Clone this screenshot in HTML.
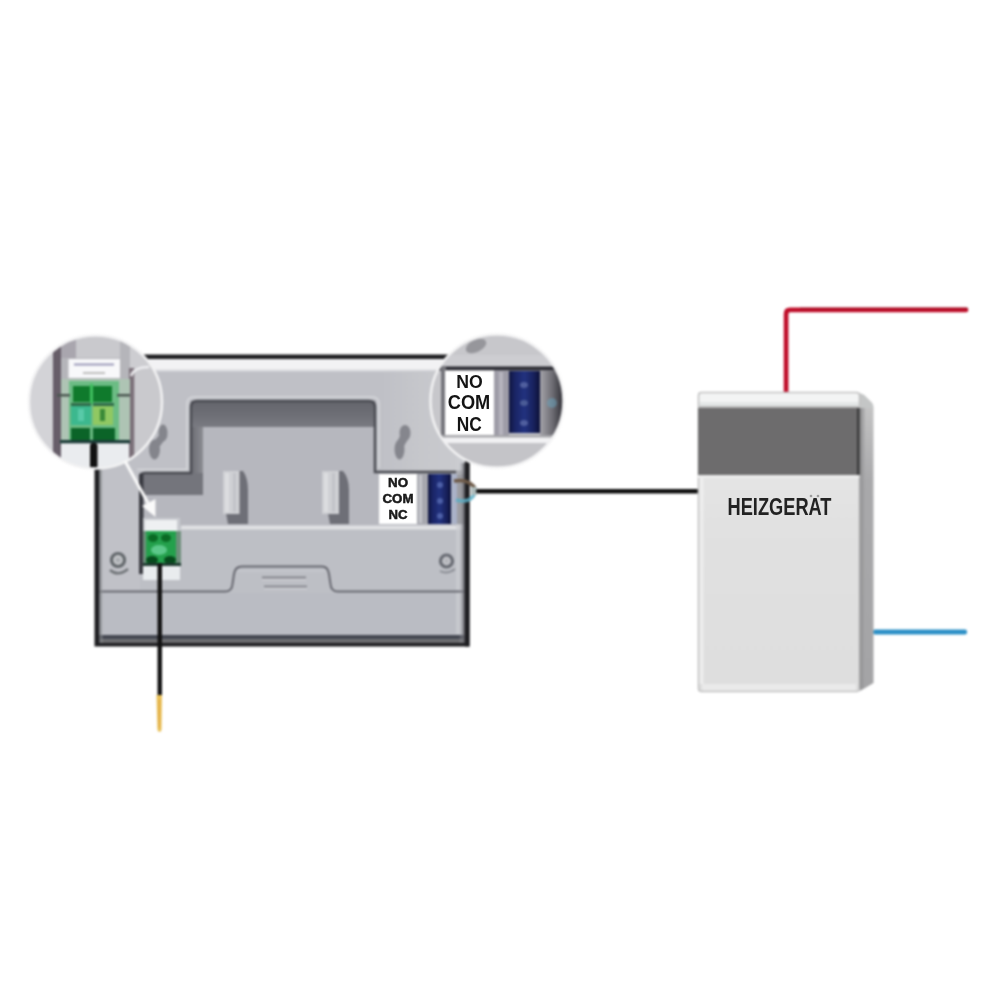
<!DOCTYPE html>
<html><head><meta charset="utf-8">
<style>
html,body{margin:0;padding:0;background:#fff;width:1000px;height:1000px;overflow:hidden;}
svg{display:block;}
#wrap{width:1000px;height:1000px;}
text{font-family:"Liberation Sans",sans-serif;font-weight:bold;}
</style></head>
<body><div id="wrap">
<svg width="1000" height="1000" viewBox="0 0 1000 1000">
<defs>
  <linearGradient id="rlight" x1="0" y1="0" x2="1" y2="0"><stop offset="0" stop-color="#c8c9cd" stop-opacity="0"/><stop offset="0.5" stop-color="#c8c9cd" stop-opacity="0.8"/><stop offset="1" stop-color="#cacbcf"/></linearGradient>
  <filter id="soft" color-interpolation-filters="sRGB" x="-2%" y="-2%" width="104%" height="104%"><feGaussianBlur stdDeviation="1"/></filter>
  <clipPath id="cl"><circle cx="95.5" cy="402" r="66.5"/></clipPath>
  <clipPath id="cr"><circle cx="497" cy="401" r="66.5"/></clipPath>
  <linearGradient id="boxg" x1="0" y1="0" x2="0" y2="1">
    <stop offset="0" stop-color="#ebebeb"/>
    <stop offset="0.45" stop-color="#e1e1e1"/>
    <stop offset="1" stop-color="#dedede"/>
  </linearGradient>
  <linearGradient id="sideg" x1="0" y1="0" x2="0" y2="1">
    <stop offset="0" stop-color="#c8c8c8"/>
    <stop offset="0.3" stop-color="#a9a9ab"/>
    <stop offset="1" stop-color="#a4a4a6"/>
  </linearGradient>
  <linearGradient id="topband" x1="0" y1="0" x2="0" y2="1">
    <stop offset="0" stop-color="#64656c"/>
    <stop offset="0.6" stop-color="#6f7077"/>
    <stop offset="1" stop-color="#7a7b82"/>
  </linearGradient>
  <linearGradient id="leftband" x1="0" y1="0" x2="1" y2="0">
    <stop offset="0" stop-color="#6a6b72"/>
    <stop offset="1" stop-color="#8c8d93"/>
  </linearGradient>
  <linearGradient id="bluet" x1="0" y1="0" x2="1" y2="0">
    <stop offset="0" stop-color="#10163f"/>
    <stop offset="0.2" stop-color="#1a2566"/>
    <stop offset="0.5" stop-color="#22327f"/>
    <stop offset="0.8" stop-color="#18215c"/>
    <stop offset="1" stop-color="#0c1036"/>
  </linearGradient>
  <linearGradient id="rdark" x1="0" y1="0" x2="1" y2="0">
    <stop offset="0" stop-color="#a5a4aa"/>
    <stop offset="0.5" stop-color="#6a6970"/>
    <stop offset="1" stop-color="#1e1e24"/>
  </linearGradient>
</defs>
<rect width="1000" height="1000" fill="#fff"/>
<g filter="url(#soft)">

<!-- ===== Thermostat back plate ===== -->
<g id="plate">
  <rect x="94.5" y="354.5" width="375" height="292" fill="#1e1e21"/>
  <rect x="99.5" y="359" width="365.5" height="284" fill="#bfc0c6"/>
  <rect x="99.5" y="359" width="365.5" height="12" fill="#f2f2f4"/>
  <rect x="99.5" y="369.5" width="365.5" height="2" fill="#d9dade"/>
  <rect x="380" y="371" width="85" height="100" fill="url(#rlight)"/>
  <!-- recess highlight -->
  <path d="M137 469.5 L187 469.5 L187 404 Q187 397 194 397 L372 397 Q379 397 379 404 L379 468" fill="none" stroke="#d6d7db" stroke-width="1.5"/>
  <!-- recess -->
  <path d="M140 590 L140 478 Q140 473 145 473 L191 473 L191 407 Q191 401 197 401 L369 401 Q375 401 375 407 L375 472 L465 472 L465 590 Z" fill="#b6b7be"/>
  <rect x="191" y="401" width="12" height="94" fill="url(#leftband)"/>
  <rect x="191" y="401" width="184" height="26" fill="url(#topband)"/>
  <rect x="140" y="473" width="63" height="22" fill="#74757c"/>
  <path d="M140 590 L140 478 Q140 473 145 473 L191 473 L191 407 Q191 401 197 401 L369 401 Q375 401 375 407 L375 472 L462 472" fill="none" stroke="#4a4b52" stroke-width="2.5"/>
  <!-- clips -->
  <path d="M239 471 L243 471 Q248 478 248 490 L248 524 L228 524 L226 513 L239 513 Z" fill="#6e6f77"/>
  <rect x="223" y="471" width="16.5" height="43" fill="#cfd0d4"/>
  <rect x="225" y="473" width="4" height="39" fill="#dcdde0"/>
  <rect x="233" y="473" width="3" height="39" fill="#c2c3c8"/>
  <path d="M339 471 L343 471 Q349 478 349 490 L349 524 L330 524 L328 513 L339 513 Z" fill="#6e6f77"/>
  <rect x="322" y="471" width="17" height="43" fill="#cfd0d4"/>
  <rect x="324" y="473" width="4" height="39" fill="#dcdde0"/>
  <rect x="332" y="473" width="3" height="39" fill="#c2c3c8"/>
  <!-- keyhole -->
  <ellipse cx="405" cy="433" rx="5.5" ry="8" fill="#85868d"/>
  <ellipse cx="399.5" cy="449.5" rx="5" ry="10" fill="#85868d"/>
  <path d="M400 436 L410 436 L404 446 L395 446 Z" fill="#85868d"/>
  <!-- lower panel -->
  <rect x="99.5" y="527" width="365.5" height="108" fill="#bdbfc5"/>
  <rect x="99.5" y="470" width="40.5" height="122" fill="#c0c1c7"/>
  <rect x="181" y="525.5" width="282.5" height="4" fill="#e0e1e4"/>
  <rect x="99.5" y="593" width="365.5" height="42" fill="#babcc3"/>
  <rect x="456" y="372" width="7" height="262" fill="#cccdd1" opacity="0.7"/>
  <path d="M99.5 591.5 L225 591.5 Q232 591.5 232.5 584 L234 574 Q235 566.5 242 566.5 L322 566.5 Q328 566.5 329 574 L330.5 584 Q331 591.5 338 591.5 L465 591.5" fill="none" stroke="#676870" stroke-width="2"/>
  <path d="M238 571 L325 571" stroke="#d0d1d6" stroke-width="1.2" opacity="0.8"/>
  <rect x="262" y="576.5" width="44" height="2" fill="#85868d"/>
  <rect x="262" y="579" width="44" height="1.2" fill="#d2d3d8"/>
  <rect x="264" y="585.5" width="43" height="2" fill="#8a8b92"/>
  <rect x="264" y="588" width="43" height="1.2" fill="#d2d3d8"/>
  <rect x="99.5" y="635" width="365.5" height="4.5" fill="#444751"/>
  <rect x="99.5" y="639.5" width="365.5" height="3.5" fill="#6b6b6d"/>
  <!-- screws -->
  <circle cx="118" cy="560" r="6.5" fill="#c5c7ca" stroke="#62676b" stroke-width="3.2"/>
  <circle cx="118" cy="560" r="2.5" fill="#a9acb0"/>
  <path d="M110 570 Q118 577 128 569" fill="none" stroke="#6f7377" stroke-width="2.5"/>
  <circle cx="446.5" cy="561" r="6" fill="#c3c4c9" stroke="#676a72" stroke-width="3.2"/>
  <circle cx="446.5" cy="561" r="2.2" fill="#b3b5ba"/>
  <path d="M440 571 Q447 575 455 569" fill="none" stroke="#8a8d94" stroke-width="2"/>
  <!-- green terminal on plate -->
  <rect x="139" y="474" width="4.5" height="100" fill="#3a3b42"/>
  <rect x="143" y="518" width="37" height="14" fill="#c9cbd0"/>
  <rect x="145" y="520" width="32" height="11" fill="#eef0f2"/>
  <rect x="143" y="531" width="38" height="35" fill="#6f8f7c"/>
  <rect x="146" y="531" width="30" height="34" fill="#24a04c"/>
  <ellipse cx="153" cy="538" rx="5" ry="4" fill="#0a6a24"/>
  <ellipse cx="166" cy="538" rx="5" ry="4" fill="#0a6a24"/>
  <ellipse cx="159" cy="550" rx="8" ry="5" fill="#5cc88a"/>
  <ellipse cx="152" cy="560" rx="6" ry="4" fill="#064a1c"/>
  <ellipse cx="170" cy="560" rx="6" ry="4" fill="#064a1c"/>
  <rect x="143" y="563" width="38" height="3" fill="#1f3a30"/>
  <rect x="143" y="566" width="37" height="14" fill="#e9ecee"/>
  <!-- NO/COM/NC small -->
  <rect x="379" y="474" width="38" height="50" fill="#ffffff"/>
  <rect x="417" y="474" width="11" height="50" fill="#a6a7ae"/>
  <rect x="419" y="475" width="3" height="48" fill="#c4c5cb"/>
  <rect x="428" y="474" width="23" height="50" fill="url(#bluet)"/>
  <circle cx="440" cy="485" r="3" fill="#4d60a8"/>
  <circle cx="440" cy="501" r="3" fill="#4d60a8"/>
  <circle cx="440" cy="516" r="3" fill="#4d60a8"/>
  <rect x="451" y="474" width="14" height="50" fill="#9c9da2"/>
  <rect x="451" y="474" width="6" height="50" fill="#aab2c8"/>
  <defs><linearGradient id="redge" x1="0" y1="0" x2="1" y2="0"><stop offset="0" stop-color="#b9bac0" stop-opacity="0"/><stop offset="1" stop-color="#4a4a50"/></linearGradient>
  <linearGradient id="ledge" x1="0" y1="0" x2="1" y2="0"><stop offset="0" stop-color="#5a5c60"/><stop offset="1" stop-color="#bcc0c2" stop-opacity="0"/></linearGradient></defs>
  <rect x="459" y="463" width="6" height="180" fill="url(#redge)"/>
  <rect x="465" y="463" width="4.5" height="183.5" fill="#1e1e21"/>
  <rect x="99.5" y="468" width="4" height="175" fill="url(#ledge)"/>
  <path d="M454 481 Q470 478 476 490" fill="none" stroke="#6e5a48" stroke-width="3.5"/>
  <path d="M456 500 Q470 504 475 493" fill="none" stroke="#5aaec6" stroke-width="3.5" opacity="0.85"/>
  <rect x="471" y="487" width="6" height="8" fill="#aebcbc"/>
</g>

<!-- wires -->
<rect x="157.5" y="563" width="4.5" height="132" fill="#121212"/>
<path d="M156.5 695 L162 695 L161.5 730 Q159.5 734 157.5 730 Z" fill="#e8bf55"/>
<rect x="158.5" y="700" width="1.5" height="28" fill="#e0a040" opacity="0.6"/>
<rect x="476" y="489" width="223" height="4.5" fill="#0e0e0e" rx="2"/>
<path d="M786.1 393 L786.1 314 Q786.1 309.9 790 309.9 L966 309.9" fill="none" stroke="#bf0d29" stroke-width="4.7" stroke-linecap="round"/>
<rect x="800" y="307.6" width="168" height="1.6" fill="#8a0a1c" opacity="0.5"/>
<rect x="873" y="629.5" width="94" height="5" fill="#2b8fc6" rx="2"/>

<!-- ===== Heater box ===== -->
<g id="box">
  <path d="M857 392 L864 395 L872 403 Q873.5 405 873.5 408 L873.5 683 L860 691 Z" fill="url(#sideg)"/>
  <path d="M857 392 L864 395 L872 403 Q873.5 405 873.5 408 L860 408 Z" fill="#c4c6c6"/>
  <rect x="861" y="408" width="4" height="280" fill="#a2a2a4" opacity="0.6"/>
  <rect x="698" y="392" width="162" height="299" rx="4" fill="url(#boxg)"/>
  <rect x="698" y="392" width="162" height="15" fill="#f3f4f4"/>
  <rect x="698" y="402" width="162" height="4" fill="#e4e7e7"/>
  <rect x="698" y="406" width="162" height="2" fill="#b8b8b8"/>
  <rect x="698.5" y="392.5" width="161" height="299" rx="3" fill="none" stroke="#c2c2c2" stroke-width="1.6"/>
  <rect x="698" y="408" width="162" height="67" fill="#6d6c6d"/>
  <rect x="857" y="408" width="3.5" height="67" fill="#3a3a3b"/>
  <rect x="698" y="475" width="162" height="3" fill="#ececec"/>
  <rect x="699.5" y="478" width="4" height="206" fill="#f0f0f0" opacity="0.8"/>
  <path d="M702 684 L856 684 L856 690.5 L704 690.5 Q702 690.5 702 688 Z" fill="#ececec" opacity="0.8"/>
  <rect x="859" y="408" width="4" height="281" fill="#8c8c8e" opacity="0.5"/>
</g>

<ellipse cx="163" cy="433" rx="4.5" ry="8.5" fill="#84858c"/>
<ellipse cx="154.5" cy="449.5" rx="5.5" ry="10" fill="#84858c"/>
<path d="M158.5 436 L167.5 436 L160 446 L149.5 446 Z" fill="#84858c"/>
<!-- ===== Left zoom circle ===== -->
<g clip-path="url(#cl)">
  <rect x="28" y="334" width="136" height="136" fill="#cdcdd1"/>
  <rect x="28" y="334" width="24" height="136" fill="#d3d3d7"/>
  <rect x="53" y="340" width="8" height="118" fill="#675e69"/>
  <rect x="61" y="334" width="69" height="136" fill="#b5b5ba"/>
  <rect x="61" y="336" width="15" height="22" fill="#a9a6ae"/>
  <rect x="76" y="336" width="44" height="22" fill="#c9c9cd"/>
  <rect x="129" y="368" width="5.5" height="95" fill="#7b7079"/>
  <rect x="134.5" y="368" width="30" height="100" fill="#c9c9cd"/>
  <path d="M131 376 q3 -9 18 -9" fill="none" stroke="#ececef" stroke-width="2.5"/>
  <rect x="68.5" y="359" width="51.5" height="19" fill="#f8f8fa"/>
  <rect x="74" y="363.5" width="40" height="2" fill="#9a98b8"/>
  <rect x="83" y="372" width="22" height="2" fill="#bdbdbd"/>
  <rect x="61" y="379" width="69" height="64" fill="#aec4b4"/>
  <rect x="69" y="381" width="50" height="62" fill="#6cbc84"/>
  <rect x="57" y="394" width="13" height="2.5" fill="#4a5650"/>
  <rect x="117" y="394" width="13" height="2.5" fill="#4a5650"/>
  <rect x="73" y="386" width="17" height="16" fill="#0f7a2c"/>
  <rect x="93" y="386" width="19" height="16" fill="#0f7a2c"/>
  <rect x="90" y="384" width="3" height="20" fill="#40c060"/>
  <rect x="71" y="403" width="20" height="3" fill="#2e6a48"/>
  <rect x="93" y="403" width="21" height="3" fill="#2e6a48"/>
  <rect x="71" y="406" width="20" height="19" fill="#3cb88e"/>
  <rect x="93" y="406" width="20" height="19" fill="#90c862"/>
  <rect x="78" y="409" width="6" height="12" fill="#58caa8"/>
  <rect x="100" y="409" width="5" height="12" fill="#3a8a38"/>
  <rect x="71" y="428" width="19" height="14" fill="#0b6428"/>
  <rect x="93" y="428" width="22" height="14" fill="#0b6428"/>
  <rect x="60" y="440" width="70" height="3.5" fill="#1c3c38"/>
  <rect x="61" y="443.5" width="68" height="26" fill="#eaecef"/>
  <rect x="90" y="443" width="7.5" height="26" fill="#111" rx="3"/>
</g>
<circle cx="95.5" cy="402" r="66.5" fill="none" stroke="#f2f2f3" stroke-width="2.5"/>
<path d="M125 461 L148 503" stroke="#fafafa" stroke-width="3"/>
<path d="M142 506 L155.5 499 L155.5 517 Z" fill="#fafafa"/>

<!-- ===== Right zoom circle ===== -->
<g clip-path="url(#cr)">
  <rect x="430" y="333" width="136" height="134" fill="#c7c7cb"/>
  <ellipse cx="476" cy="346" rx="11" ry="6" fill="#96969b" transform="rotate(-25 476 346)"/>
  <rect x="430" y="355" width="136" height="11" fill="#cdcdd1"/>
  <rect x="430" y="366.5" width="136" height="4" fill="#2c2c33"/>
  <rect x="441" y="366.5" width="5" height="71" fill="#75757b"/>
  <rect x="445" y="370.5" width="49" height="64.5" fill="#ffffff"/>
  <rect x="494" y="370.5" width="15" height="67" fill="#9e9ca7"/>
  <rect x="499" y="372" width="4" height="64" fill="#b6b4be"/>
  <rect x="509" y="371" width="31" height="62" fill="url(#bluet)"/>
  <ellipse cx="524" cy="385" rx="4" ry="3" fill="#5c6ca8" opacity="0.8"/>
  <ellipse cx="524" cy="403" rx="4" ry="3" fill="#56689e" opacity="0.8"/>
  <ellipse cx="524" cy="423" rx="4" ry="3" fill="#5c6ca8" opacity="0.8"/>
  <rect x="540" y="370.5" width="26" height="67" fill="url(#rdark)"/>
  <ellipse cx="552" cy="403" rx="5" ry="5" fill="#6aa6c0" opacity="0.5"/>
  <rect x="430" y="435" width="136" height="2.5" fill="#a4a4a8"/>
  <rect x="430" y="437.5" width="136" height="5.5" fill="#f1f1f3"/>
  <rect x="430" y="443" width="136" height="26" fill="#c4c4c8"/>
</g>
<circle cx="497" cy="401" r="66.5" fill="none" stroke="#f2f2f3" stroke-width="2.5"/>
</g>
<g id="labels">
  <text x="398" y="487.2" font-size="12" text-anchor="middle" fill="#1a1a1a" stroke="#1a1a1a" stroke-width="0.5" textLength="20" lengthAdjust="spacingAndGlyphs">NO</text>
  <text x="398" y="502.8" font-size="12" text-anchor="middle" fill="#1a1a1a" stroke="#1a1a1a" stroke-width="0.5" textLength="31" lengthAdjust="spacingAndGlyphs">COM</text>
  <text x="398" y="519" font-size="12" text-anchor="middle" fill="#1a1a1a" stroke="#1a1a1a" stroke-width="0.5" textLength="19" lengthAdjust="spacingAndGlyphs">NC</text>
  <text x="779.5" y="514.5" font-size="23" text-anchor="middle" fill="#222" textLength="104" lengthAdjust="spacingAndGlyphs">HEIZGERAT</text>
  <circle cx="811" cy="496" r="1.3" fill="#555" opacity="0.5"/><circle cx="818" cy="496" r="1.3" fill="#555" opacity="0.5"/>
  <text x="469.5" y="388" font-size="19" text-anchor="middle" fill="#141414" textLength="26.5" lengthAdjust="spacingAndGlyphs">NO</text>
  <text x="469" y="409" font-size="19.5" text-anchor="middle" fill="#141414" textLength="42.5" lengthAdjust="spacingAndGlyphs">COM</text>
  <text x="469.2" y="430.5" font-size="19.5" text-anchor="middle" fill="#141414" textLength="25" lengthAdjust="spacingAndGlyphs">NC</text>
</g>
</svg></div>
</body></html>
